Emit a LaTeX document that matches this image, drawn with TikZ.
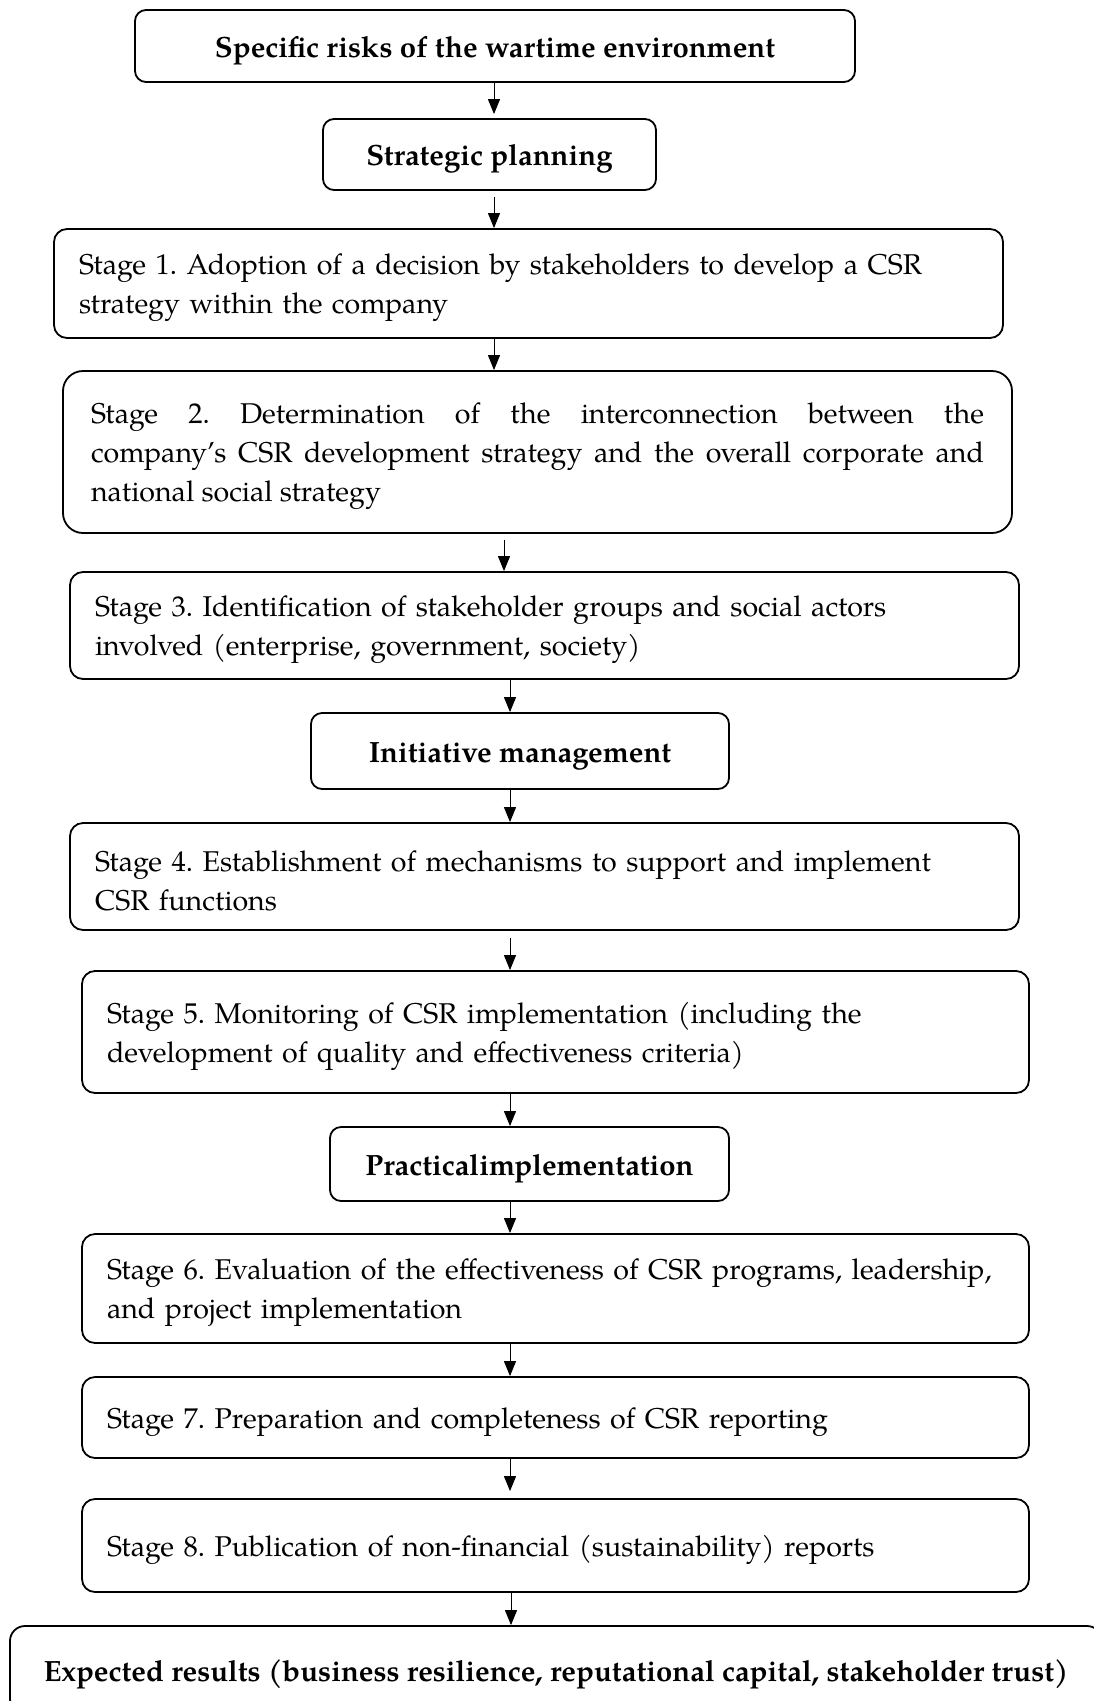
\documentclass[tikz,border=0pt]{standalone}
\usepackage{fontspec}
\setmainfont{TeX Gyre Pagella}
\usetikzlibrary{arrows.meta}
\newcommand{\toppad}{\rule{0pt}{30pt}}
\tikzset{
  every picture/.style={x=1pt,y=-1pt},
  box/.style={draw, line width=1.8pt, rounded corners=13pt, inner xsep=25pt, inner ysep=0pt,
    font=\fontsize{28.6}{39}\selectfont\frenchspacing, align=left,
    execute at begin node=\toppad},
  titlebox/.style={draw, line width=1.8pt, rounded corners=11pt, inner sep=0pt,
    font=\fontsize{29.3}{39}\selectfont\bfseries, align=center,
    execute at begin node=\toppad},
  arr/.style={line width=1pt, -{Triangle[length=15pt,width=12pt]}},
}
\begin{document}
\begin{tikzpicture}
\useasboundingbox (0,0) rectangle (1094,1701);
\fill[white] (0,0) rectangle (1094,1701);
\coordinate (c1) at (494,0);
\coordinate (c2) at (504,0);
\coordinate (c3) at (510,0);
\coordinate (c4) at (511,0);

\node[titlebox, minimum width=720pt, minimum height=72pt] (A) at (495,46)
  {Specific risks of the wartime environment};
\node[titlebox, minimum width=333pt, minimum height=71pt] (B) at (489.5,154.5)
  {Strategic planning};
\node[box, text width=899pt, minimum height=109pt] (S1) at (528.5,283.5)
  {Stage 1. Adoption of a decision by stakeholders to develop a CSR\\strategy within the company};
\node[box, rounded corners=20pt, inner xsep=28pt, text width=893pt, align=justify, minimum height=162pt] (S2) at (537.5,452)
  {Stage 2. Determination of the interconnection between the\linebreak company’s CSR development strategy and the overall corporate and\linebreak national social strategy};
\node[box, text width=899pt, minimum height=107pt] (S3) at (544.5,625.5)
  {Stage 3. Identification of stakeholder groups and social actors\\involved (enterprise, government, society)};
\node[titlebox, minimum width=418pt, minimum height=76pt] (IM) at (520,751)
  {Initiative management};
\node[box, text width=899pt, minimum height=107pt] (S4) at (544.5,876.5)
  {Stage 4. Establishment of mechanisms to support and implement\\CSR functions};
\node[box, text width=897pt, minimum height=122pt] (S5) at (555.5,1032)
  {Stage 5. Monitoring of CSR implementation (including the\\development of quality and effectiveness criteria)};
\node[titlebox, minimum width=399pt, minimum height=74pt] (PI) at (529.5,1164)
  {Practicalimplementation};
\node[box, text width=897pt, minimum height=109pt] (S6) at (555.5,1288.5)
  {Stage 6. Evaluation of the effectiveness of CSR programs, leadership,\\and project implementation};
\node[box, text width=897pt, minimum height=81pt] (S7) at (555.5,1417.5)
  {Stage 7. Preparation and completeness of CSR reporting};
\node[box, text width=897pt, minimum height=93pt] (S8) at (555.5,1545.5)
  {Stage 8. Publication of non-financial (sustainability) reports};
\node[titlebox, rounded corners=15pt, minimum width=1092pt, minimum height=88pt] (R) at (556,1670)
  {Expected results (business resilience, reputational capital, stakeholder trust)};

\draw[arr, shorten >=4pt] (A.south -| c1) -- (B.north -| c1);
\draw[arr, shorten <=6pt] (B.south -| c1) -- (S1.north -| c1);
\draw[arr] (S1.south -| c1) -- (S2.north -| c1);
\draw[arr, shorten <=6pt] (S2.south -| c2) -- (S3.north -| c2);
\draw[arr] (S3.south -| c3) -- (IM.north -| c3);
\draw[arr] (IM.south -| c3) -- (S4.north -| c3);
\draw[arr, shorten <=7pt] (S4.south -| c3) -- (S5.north -| c3);
\draw[arr] (S5.south -| c3) -- (PI.north -| c3);
\draw[arr] (PI.south -| c3) -- (S6.north -| c3);
\draw[arr] (S6.south -| c3) -- (S7.north -| c3);
\draw[arr, shorten >=7pt] (S7.south -| c3) -- (S8.north -| c3);
\draw[arr] (S8.south -| c4) -- (R.north -| c4);
\end{tikzpicture}
\end{document}
